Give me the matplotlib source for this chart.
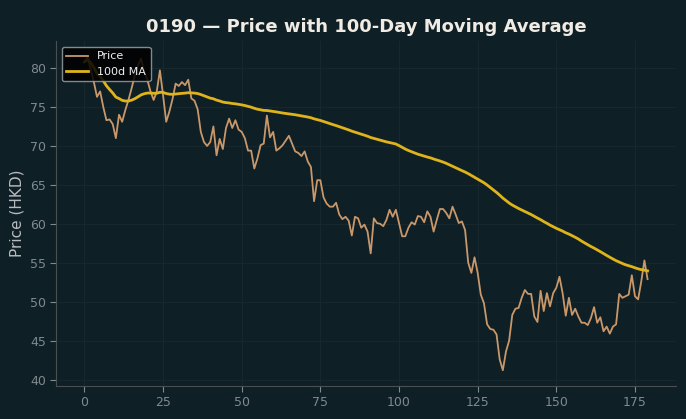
import numpy as np
import pandas as pd
import matplotlib
matplotlib.use("Agg")
import matplotlib.pyplot as plt

# ---- data ----
days = list(range(180))
price = [
    80.8, 81.4, 79.8, 78.2, 76.3, 77.0, 75.0, 73.3, 73.4, 72.8,
    71.0, 74.0, 73.1, 74.6, 75.9, 77.4, 79.0, 80.3, 81.2, 79.5,
    78.5, 77.0, 75.9, 77.0, 79.7, 76.5, 73.1, 74.4, 76.0, 78.0,
    77.7, 78.2, 77.8, 78.5, 76.1, 75.8, 74.7, 71.8, 70.5, 70.0,
    70.5, 72.5, 68.8, 70.9, 69.6, 72.3, 73.5, 72.3, 73.3, 72.1,
    71.8, 71.0, 69.4, 69.4, 67.1, 68.4, 70.1, 70.3, 73.9, 71.1,
    71.8, 69.4, 69.7, 70.1, 70.7, 71.3, 70.3, 69.3, 69.1, 68.7,
    69.3, 68.0, 67.3, 62.9, 65.6, 65.6, 63.4, 62.6, 62.2, 62.2,
    62.7, 61.2, 60.6, 60.9, 60.4, 58.5, 60.9, 60.7, 59.5, 59.9,
    59.0, 56.2, 60.7, 60.1, 60.0, 59.7, 60.5, 61.8, 60.9, 61.8,
    60.1, 58.4, 58.4, 59.5, 60.2, 59.9, 61.0, 60.9, 60.2, 61.6,
    60.9, 59.0, 60.5, 61.9, 61.9, 61.4, 60.7, 62.2, 61.2, 60.1,
    60.3, 59.2, 55.0, 53.7, 55.7, 53.7, 50.9, 49.8, 47.1, 46.5,
    46.4, 45.8, 42.6, 41.2, 43.6, 45.0, 48.3, 49.1, 49.2, 50.5,
    51.5, 51.0, 51.0, 48.1, 47.4, 51.4, 48.8, 51.1, 49.4, 51.1,
    51.8, 53.2, 51.1, 48.2, 50.5, 48.3, 49.1, 48.1, 47.3, 47.3,
    47.0, 47.9, 49.3, 47.3, 48.0, 46.2, 46.8, 45.9, 46.8, 47.1,
    51.0, 50.5, 50.7, 50.9, 53.4, 50.7, 50.3, 52.6, 55.3, 52.9,
]
ma_window = 100
ma = pd.Series(price).rolling(ma_window, min_periods=1).mean()

title = "0190 \u2014 Price with 100-Day Moving Average"
ylabel = "Price (HKD)"

# ---- style ----
bg = "#0f1f26"
fig = plt.figure(figsize=(6.86, 4.19), dpi=100, facecolor=bg)
ax = fig.add_axes([0.082, 0.079, 0.903, 0.822])
ax.set_facecolor(bg)

ax.plot(days, price, color="#c9986a", lw=1.3, label="Price", zorder=3)
ax.plot(days, ma, color="#dfb41a", lw=2.0, label="100d MA", zorder=4)

ax.set_title(title, color="#f0ece4", fontsize=13, fontweight="bold", pad=7)
ax.set_ylabel(ylabel, color="#b8bcbe", fontsize=11)

ax.set_xticks([0, 25, 50, 75, 100, 125, 150, 175])
ax.set_yticks([40, 45, 50, 55, 60, 65, 70, 75, 80])
ax.tick_params(colors="#7f8a8e", labelsize=9, length=4)
for s in ["top", "right"]:
    ax.spines[s].set_visible(False)
for s in ["left", "bottom"]:
    ax.spines[s].set_color("#4a4f52")
ax.grid(True, color="#16272e", lw=0.8)
ax.set_axisbelow(True)

leg = ax.legend(loc="upper left", facecolor="#000000", edgecolor="#9aa0a3",
                framealpha=0.85, fontsize=8, labelcolor="#f0f0f0")
leg.set_zorder(5)

fig.savefig("out.png", dpi=100, facecolor=bg)
